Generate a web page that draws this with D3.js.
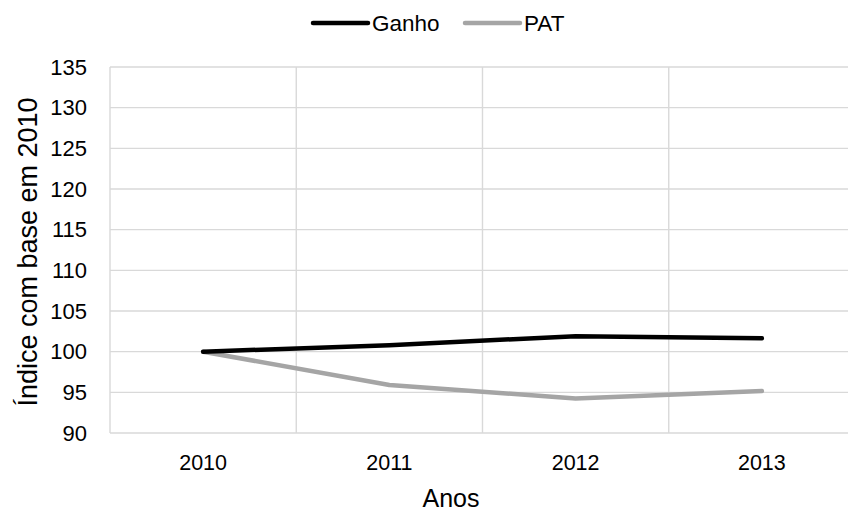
<!DOCTYPE html>
<html>
<head>
<meta charset="utf-8">
<script src="https://cdn.jsdelivr.net/npm/d3@7"></script>
<style>
  html, body { margin: 0; padding: 0; background: #fff; }
  svg { display: block; }
  text { font-family: "Liberation Sans", Arial, sans-serif; fill: #000; }
</style>
</head>
<body>
<script>
// Índices anuais (base 2010 = 100)
const years = ["2010", "2011", "2012", "2013"];
const ganho = [100, 100.8, 101.9, 101.65];
const pat = [100, 95.9, 94.25, 95.15];
const yTicks = [90, 95, 100, 105, 110, 115, 120, 125, 130, 135];

const seriesList = [
  { name: "Ganho", values: ganho, color: "#000000" },
  { name: "PAT", values: pat, color: "#a5a5a5" }
];

const W = 848, H = 514;
const svg = d3.select("body").append("svg").attr("width", W).attr("height", H);

const x = d3.scaleBand().domain(years).range([110, 855]).padding(0);
const y = d3.scaleLinear().domain([90, 135]).range([433, 67]);

const grid = svg.append("g").attr("stroke", "#d9d9d9").attr("stroke-width", 1.4);
// horizontal gridlines
grid.selectAll("line.h").data(yTicks).enter().append("line")
  .attr("x1", 110).attr("x2", 855)
  .attr("y1", d => y(d)).attr("y2", d => y(d));
// vertical gridlines between categories
const bounds = years.map(d => x(d)).concat([x(years[years.length - 1]) + x.bandwidth()]);
grid.selectAll("line.v").data(bounds).enter().append("line")
  .attr("x1", d => d).attr("x2", d => d)
  .attr("y1", y(135)).attr("y2", y(90));

// y axis labels
const yAxis = d3.axisLeft(y).tickValues(yTicks).tickSize(0).tickPadding(0);
const gy = svg.append("g").attr("transform", "translate(87,0)").call(yAxis);
gy.select(".domain").remove();
gy.selectAll("text").attr("font-size", 22).attr("font-family", "Liberation Sans, Arial, sans-serif").attr("fill", "#000");

// x axis labels
const xAxis = d3.axisBottom(x).tickSize(0).tickPadding(0);
const gx = svg.append("g").attr("transform", "translate(0,455)").call(xAxis);
gx.select(".domain").remove();
gx.selectAll("text").attr("font-size", 21.5).attr("font-family", "Liberation Sans, Arial, sans-serif").attr("fill", "#000");

// series lines
const line = d3.line()
  .x((d, i) => x(years[i]) + x.bandwidth() / 2)
  .y(d => y(d));

seriesList.slice().reverse().forEach(s => {
  svg.append("path")
    .datum(s.values)
    .attr("d", line)
    .attr("fill", "none")
    .attr("stroke", s.color)
    .attr("stroke-width", 4.5)
    .attr("stroke-linecap", "round")
    .attr("stroke-linejoin", "round");
});

// axis titles
svg.append("text")
  .attr("transform", "translate(37,252) rotate(-90)")
  .attr("text-anchor", "middle")
  .attr("font-size", 27)
  .text("Índice com base em 2010");

svg.append("text")
  .attr("x", 451).attr("y", 507)
  .attr("text-anchor", "middle")
  .attr("font-size", 25)
  .text("Anos");

// legend
const legend = [
  { s: seriesList[0], x1: 313, x2: 368, tx: 372 },
  { s: seriesList[1], x1: 465, x2: 520, tx: 524 }
];
legend.forEach(l => {
  svg.append("line")
    .attr("x1", l.x1).attr("x2", l.x2).attr("y1", 23).attr("y2", 23)
    .attr("stroke", l.s.color).attr("stroke-width", 4.5).attr("stroke-linecap", "round");
  svg.append("text")
    .attr("x", l.tx).attr("y", 31)
    .attr("font-size", 22.5)
    .text(l.s.name);
});
</script>
</body>
</html>
